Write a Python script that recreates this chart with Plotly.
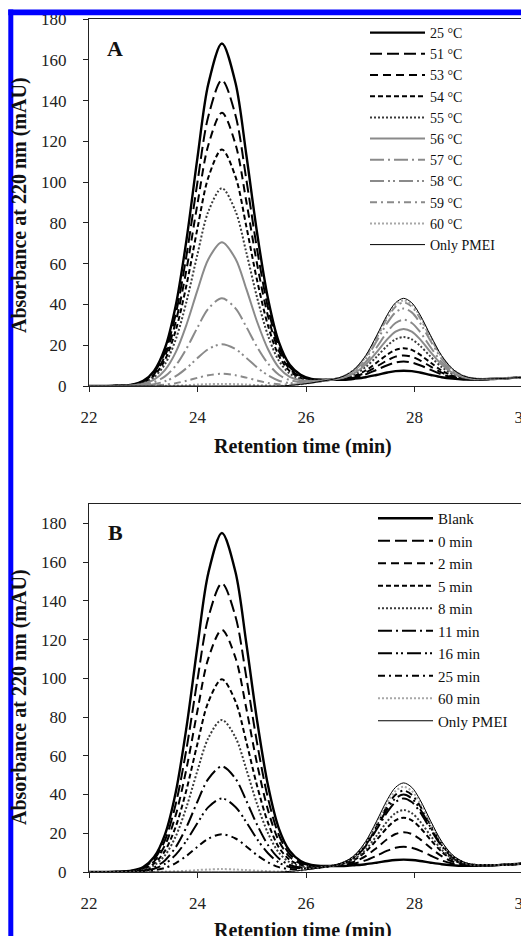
import plotly.graph_objects as go

# ---------------- data ----------------
retention_time = [22.0, 22.5, 22.8, 23.0, 23.2, 23.4, 23.6, 23.8, 24.0, 24.2, 24.45, 24.7, 24.9,
                  25.1, 25.3, 25.5, 25.7, 25.9, 26.1, 26.3, 26.5, 26.7, 26.9, 27.1, 27.3, 27.5,
                  27.65, 27.8, 27.95, 28.1, 28.3, 28.5, 28.7, 28.9, 29.1, 29.4, 29.7, 30.0]

# Panel A : temperature series
a_labels = ["25 °C", "51 °C", "53 °C", "54 °C", "55 °C", "56 °C", "57 °C", "58 °C", "59 °C", "60 °C", "Only PMEI"]
a_25C = [0, 0.1, 0.7, 2.5, 7.4, 18.5, 39.6, 72.2, 112.1, 148.2, 168.0, 148.7, 113.4, 74.8, 42.8, 21.5, 10.4, 5.5, 3.5, 3.1, 3.1, 3.1, 3.6, 4.3, 5.4, 6.6, 7.3, 7.5, 7.3, 6.6, 5.4, 4.3, 3.6, 3.2, 3.2, 3.4, 3.8, 4.3]
a_51C = [0, 0.1, 0.6, 2.3, 6.6, 16.5, 35.4, 64.5, 100.1, 132.3, 150.0, 132.8, 101.3, 66.8, 38.3, 19.2, 9.3, 5.0, 3.3, 3.0, 3.1, 3.4, 4.2, 5.7, 7.9, 10.2, 11.5, 12.0, 11.5, 10.2, 7.9, 5.7, 4.2, 3.5, 3.2, 3.4, 3.8, 4.3]
a_53C = [0, 0.1, 0.6, 2.0, 5.9, 14.7, 31.6, 57.6, 89.4, 118.2, 134.0, 118.6, 90.5, 59.6, 34.2, 17.2, 8.3, 4.6, 3.1, 2.9, 3.1, 3.5, 4.6, 6.6, 9.5, 12.6, 14.4, 15.0, 14.4, 12.6, 9.5, 6.6, 4.6, 3.6, 3.3, 3.4, 3.8, 4.3]
a_54C = [0, 0.1, 0.5, 1.7, 5.1, 12.8, 27.4, 49.9, 77.4, 102.3, 116.0, 102.7, 78.3, 51.6, 29.6, 14.8, 7.3, 4.0, 2.9, 2.8, 3.2, 3.7, 5.1, 7.6, 11.4, 15.4, 17.7, 18.5, 17.7, 15.4, 11.4, 7.6, 5.1, 3.8, 3.3, 3.4, 3.8, 4.3]
a_55C = [0, 0.0, 0.4, 1.5, 4.3, 10.7, 22.9, 41.7, 64.7, 85.6, 97.0, 85.8, 65.5, 43.2, 24.7, 12.4, 6.1, 3.5, 2.7, 2.8, 3.2, 4.0, 5.8, 9.3, 14.3, 19.8, 22.9, 24.0, 22.9, 19.8, 14.3, 9.3, 5.8, 4.1, 3.4, 3.4, 3.8, 4.3]
a_56C = [0, 0.0, 0.3, 1.1, 3.1, 7.8, 16.6, 30.3, 47.0, 62.2, 70.5, 62.4, 47.6, 31.4, 18.0, 9.0, 4.5, 2.8, 2.4, 2.7, 3.2, 4.2, 6.4, 10.5, 16.5, 23.0, 26.7, 28.0, 26.7, 23.0, 16.5, 10.5, 6.4, 4.3, 3.5, 3.5, 3.8, 4.3]
a_57C = [0, 0.0, 0.2, 0.6, 1.9, 4.7, 10.1, 18.5, 28.7, 37.9, 43.0, 38.1, 29.0, 19.1, 11.0, 5.5, 2.9, 2.0, 2.0, 2.5, 3.2, 4.4, 7.0, 11.8, 18.9, 26.6, 30.9, 32.5, 30.9, 26.6, 18.9, 11.8, 7.0, 4.5, 3.5, 3.5, 3.8, 4.3]
a_58C = [0, 0.0, 0.1, 0.3, 0.9, 2.3, 4.8, 8.8, 13.7, 18.1, 20.5, 18.1, 13.8, 9.1, 5.2, 2.6, 1.5, 1.4, 1.8, 2.4, 3.3, 4.7, 7.7, 13.4, 21.9, 31.0, 36.1, 38.0, 36.1, 31.0, 21.9, 13.4, 7.7, 4.8, 3.6, 3.5, 3.8, 4.3]
a_59C = [0, 0.0, 0.0, 0.1, 0.3, 0.7, 1.4, 2.6, 4.0, 5.3, 6.0, 5.3, 4.1, 2.7, 1.5, 0.8, 0.7, 1.0, 1.6, 2.4, 3.3, 4.8, 8.1, 14.3, 23.5, 33.4, 38.9, 41.0, 38.9, 33.4, 23.5, 14.3, 8.1, 4.9, 3.7, 3.5, 3.8, 4.3]
a_60C = [0, 0.0, 0.0, 0.0, 0.0, 0.1, 0.2, 0.4, 0.7, 0.9, 1.0, 0.9, 0.7, 0.4, 0.3, 0.1, 0.4, 0.8, 1.6, 2.4, 3.3, 4.9, 8.3, 14.6, 24.0, 34.2, 39.9, 42.0, 39.9, 34.2, 24.0, 14.6, 8.3, 5.0, 3.7, 3.5, 3.8, 4.3]
a_pmei = [0, 0, 0, 0, 0, 0, 0, 0, 0, 0, 0, 0, 0, 0, 0, 0, 0.3, 0.8, 1.5, 2.4, 3.3, 4.9, 8.4, 14.9, 24.6, 35.0, 40.8, 43.0, 40.8, 35.0, 24.6, 14.9, 8.4, 5.0, 3.7, 3.5, 3.8, 4.3]

# Panel B : incubation-time series
b_labels = ["Blank", "0 min", "2 min", "5 min", "8 min", "11 min", "16 min", "25 min", "60 min", "Only PMEI"]
b_blank = [0, 0.1, 0.8, 2.6, 7.7, 19.3, 41.3, 75.3, 116.7, 154.4, 175.0, 154.9, 118.1, 77.9, 44.6, 22.4, 10.8, 5.7, 3.6, 3.1, 3.1, 3.1, 3.5, 4.0, 4.8, 5.7, 6.2, 6.4, 6.2, 5.7, 4.8, 4.0, 3.5, 3.2, 3.2, 3.4, 3.8, 4.3]
b_0min = [0, 0.1, 0.6, 2.2, 6.6, 16.4, 35.2, 64.1, 99.4, 131.4, 149.0, 131.9, 100.6, 66.3, 38.0, 19.1, 9.2, 5.0, 3.3, 3.0, 3.1, 3.4, 4.4, 6.0, 8.4, 11.0, 12.5, 13.0, 12.5, 11.0, 8.4, 6.0, 4.4, 3.5, 3.3, 3.4, 3.8, 4.3]
b_2min = [0, 0.1, 0.5, 1.9, 5.5, 13.8, 29.5, 53.8, 83.4, 110.3, 125.0, 110.6, 84.4, 55.6, 31.9, 16.0, 7.8, 4.3, 3.0, 2.9, 3.2, 3.8, 5.4, 8.2, 12.4, 17.0, 19.6, 20.5, 19.6, 17.0, 12.4, 8.2, 5.4, 3.9, 3.4, 3.4, 3.8, 4.3]
b_5min = [0, 0.0, 0.4, 1.5, 4.4, 10.9, 23.5, 42.8, 66.4, 87.8, 99.5, 88.1, 67.2, 44.3, 25.4, 12.7, 6.3, 3.6, 2.7, 2.8, 3.3, 4.2, 6.4, 10.5, 16.5, 23.0, 26.7, 28.0, 26.7, 23.0, 16.5, 10.5, 6.4, 4.3, 3.5, 3.5, 3.8, 4.3]
b_8min = [0, 0.0, 0.3, 1.2, 3.5, 8.6, 18.5, 33.8, 52.4, 69.2, 78.5, 69.5, 53.0, 34.9, 20.0, 10.0, 5.0, 3.0, 2.5, 2.7, 3.3, 4.4, 6.9, 11.6, 18.6, 26.2, 30.4, 32.0, 30.4, 26.2, 18.6, 11.6, 6.9, 4.5, 3.5, 3.5, 3.8, 4.3]
b_11min = [0, 0.0, 0.2, 0.8, 2.4, 6.0, 12.9, 23.4, 36.4, 48.1, 54.5, 48.2, 36.8, 24.3, 13.9, 7.0, 3.6, 2.3, 2.2, 2.6, 3.3, 4.7, 7.7, 13.4, 21.9, 31.0, 36.1, 38.0, 36.1, 31.0, 21.9, 13.4, 7.7, 4.8, 3.6, 3.5, 3.8, 4.3]
b_16min = [0, 0.0, 0.2, 0.6, 1.7, 4.2, 9.0, 16.3, 25.3, 33.5, 38.0, 33.6, 25.7, 16.9, 9.7, 4.9, 2.6, 1.9, 2.0, 2.5, 3.3, 4.8, 8.0, 14.0, 22.9, 32.6, 38.0, 40.0, 38.0, 32.6, 22.9, 14.0, 8.0, 4.9, 3.7, 3.5, 3.8, 4.3]
b_25min = [0, 0.0, 0.1, 0.3, 0.9, 2.1, 4.6, 8.4, 13.0, 17.2, 19.5, 17.3, 13.2, 8.7, 5.0, 2.5, 1.5, 1.3, 1.8, 2.5, 3.3, 4.9, 8.3, 14.6, 24.0, 34.2, 39.9, 42.0, 39.9, 34.2, 24.0, 14.6, 8.3, 5.0, 3.7, 3.5, 3.8, 4.3]
b_60min = [0, 0, 0, 0.0, 0.1, 0.2, 0.4, 0.6, 1.0, 1.3, 1.5, 1.3, 1.0, 0.7, 0.4, 0.2, 0.4, 0.8, 1.6, 2.4, 3.3, 5.0, 8.5, 15.2, 25.1, 35.8, 41.8, 44.0, 41.8, 35.8, 25.1, 15.2, 8.5, 5.1, 3.7, 3.5, 3.8, 4.3]
b_pmei = [0, 0, 0, 0, 0, 0, 0, 0, 0, 0, 0, 0, 0, 0, 0, 0, 0.3, 0.8, 1.5, 2.4, 3.3, 5.1, 8.8, 15.8, 26.2, 37.4, 43.7, 46.0, 43.7, 37.4, 26.2, 15.8, 8.8, 5.2, 3.7, 3.5, 3.8, 4.3]

x_ticks = [22, 24, 26, 28, 30]
y_ticks = [0, 20, 40, 60, 80, 100, 120, 140, 160, 180]

a_series = [a_25C, a_51C, a_53C, a_54C, a_55C, a_56C, a_57C, a_58C, a_59C, a_60C, a_pmei]
b_series = [b_blank, b_0min, b_2min, b_5min, b_8min, b_11min, b_16min, b_25min, b_60min, b_pmei]

# ---------------- styles ----------------
LONGDASH = "12px,5px"
DASH = "8px,5px"
SHORTDASH = "5px,3px"
DOT = "2px,2px"
LONGDASHDOT = "14px,4px,2px,4px"
LONGDASHDOTDOT = "14px,4px,2px,3px,2px,4px"
DASHDOT = "7px,4px,2px,4px"

a_styles = [
    ("#000000", "solid", 2.4),
    ("#000000", LONGDASH, 2.0),
    ("#000000", DASH, 2.0),
    ("#000000", SHORTDASH, 2.0),
    ("#3a3a3a", DOT, 2.0),
    ("#8a8a8a", "solid", 2.0),
    ("#8a8a8a", LONGDASHDOT, 2.0),
    ("#8a8a8a", LONGDASHDOTDOT, 2.0),
    ("#8a8a8a", DASHDOT, 2.0),
    ("#a8a8a8", DOT, 2.0),
    ("#000000", "solid", 1.0),
]
b_styles = [
    ("#000000", "solid", 2.4),
    ("#000000", LONGDASH, 2.0),
    ("#000000", DASH, 2.0),
    ("#000000", SHORTDASH, 2.0),
    ("#3a3a3a", DOT, 2.0),
    ("#000000", LONGDASHDOT, 2.0),
    ("#000000", LONGDASHDOTDOT, 2.0),
    ("#000000", DASHDOT, 2.0),
    ("#a8a8a8", DOT, 2.0),
    ("#000000", "solid", 1.0),
]

# The page body has an 8 px margin, so the figure is laid out in page pixels minus 8.
OFF = 8
W, H = 529 - OFF, 936 - OFF
SERIF = "Liberation Serif, Times New Roman, serif"


def px_x(p):
    return (p - OFF) / W


def px_y(p):
    return 1 - (p - OFF) / H


fig = go.Figure()

for i, (lab, ys, st) in enumerate(zip(a_labels, a_series, a_styles)):
    fig.add_trace(go.Scatter(
        x=retention_time, y=ys, name=lab, mode="lines", xaxis="x", yaxis="y",
        line=dict(color=st[0], dash=st[1], width=st[2], shape="spline", smoothing=0.9),
        legend="legend", legendgroup="a%d" % i, hoverinfo="skip"))

for i, (lab, ys, st) in enumerate(zip(b_labels, b_series, b_styles)):
    fig.add_trace(go.Scatter(
        x=retention_time, y=ys, name=lab, mode="lines", xaxis="x2", yaxis="y2",
        line=dict(color=st[0], dash=st[1], width=st[2], shape="spline", smoothing=0.9),
        legend="legend2", legendgroup="b%d" % i, hoverinfo="skip"))

axis_common = dict(
    showgrid=False, zeroline=False, showline=True, linecolor="#222222", linewidth=1.3,
    mirror=True, ticks="outside", ticklen=5, tickwidth=1.2, tickcolor="#222222",
    tickfont=dict(family=SERIF, size=17, color="#222222"), ticklabeloverflow="allow",
)

xdom = [px_x(89), px_x(523)]
fig.update_layout(
    width=W, height=H,
    margin=dict(l=0, r=0, t=0, b=0, autoexpand=False),
    paper_bgcolor="white", plot_bgcolor="white",
    showlegend=True,
    xaxis=dict(domain=xdom, anchor="y", range=[22, 30], tickvals=x_ticks, ticklabelstandoff=10, **axis_common),
    yaxis=dict(domain=[px_y(386), px_y(19)], anchor="x", range=[0, 180], tickvals=y_ticks, ticklabelstandoff=13, **axis_common),
    xaxis2=dict(domain=xdom, anchor="y2", range=[22, 30], tickvals=x_ticks, ticklabelstandoff=10, **axis_common),
    yaxis2=dict(domain=[px_y(872), px_y(504)], anchor="x2", range=[0, 190], tickvals=y_ticks, ticklabelstandoff=13, **axis_common),
    legend=dict(x=px_x(365), y=px_y(17), xanchor="left", yanchor="top", bgcolor="rgba(0,0,0,0)",
                itemwidth=55,
                font=dict(family=SERIF, size=14, color="#111111"), tracegroupgap=0, traceorder="grouped"),
    legend2=dict(x=px_x(373), y=px_y(502), xanchor="left", yanchor="top", bgcolor="rgba(0,0,0,0)",
                 itemwidth=55,
                 font=dict(family=SERIF, size=15, color="#111111"), tracegroupgap=0, traceorder="grouped"),
)

title_font = dict(family=SERIF, size=20, color="#111111")
annotations = [
    dict(text="<b>A</b>", x=px_x(115), y=px_y(48.5), font=dict(family=SERIF, size=22, color="#111111")),
    dict(text="<b>B</b>", x=px_x(115), y=px_y(532), font=dict(family=SERIF, size=22, color="#111111")),
    dict(text="<b>Retention time (min)</b>", x=px_x(303), y=px_y(446), font=title_font),
    dict(text="<b>Retention time (min)</b>", x=px_x(303), y=px_y(930), font=title_font),
    dict(text="<b>Absorbance at 220 nm (mAU)</b>", x=px_x(19.5), y=px_y(205.5), textangle=-90, font=title_font),
    dict(text="<b>Absorbance at 220 nm (mAU)</b>", x=px_x(19.5), y=px_y(697.5), textangle=-90, font=title_font),
]
for a in annotations:
    a.update(xref="paper", yref="paper", showarrow=False, xanchor="center", yanchor="middle")
fig.update_layout(annotations=annotations)

BLUE = "#0000ff"
TOPY = px_y(9.5)
shapes = [
    dict(type="rect", x0=0, x1=1, y0=TOPY, y1=1, fillcolor="white"),
    dict(type="rect", x0=px_x(8.3), x1=1, y0=px_y(15.3), y1=TOPY, fillcolor=BLUE),
    dict(type="rect", x0=px_x(8.3), x1=px_x(13.3), y0=0, y1=TOPY, fillcolor=BLUE),
    dict(type="rect", x0=px_x(526.8), x1=1, y0=0, y1=TOPY, fillcolor=BLUE),
]
for s in shapes:
    s.update(xref="paper", yref="paper", layer="above", line=dict(width=0))
fig.update_layout(shapes=shapes)

fig.write_html("out.html")
